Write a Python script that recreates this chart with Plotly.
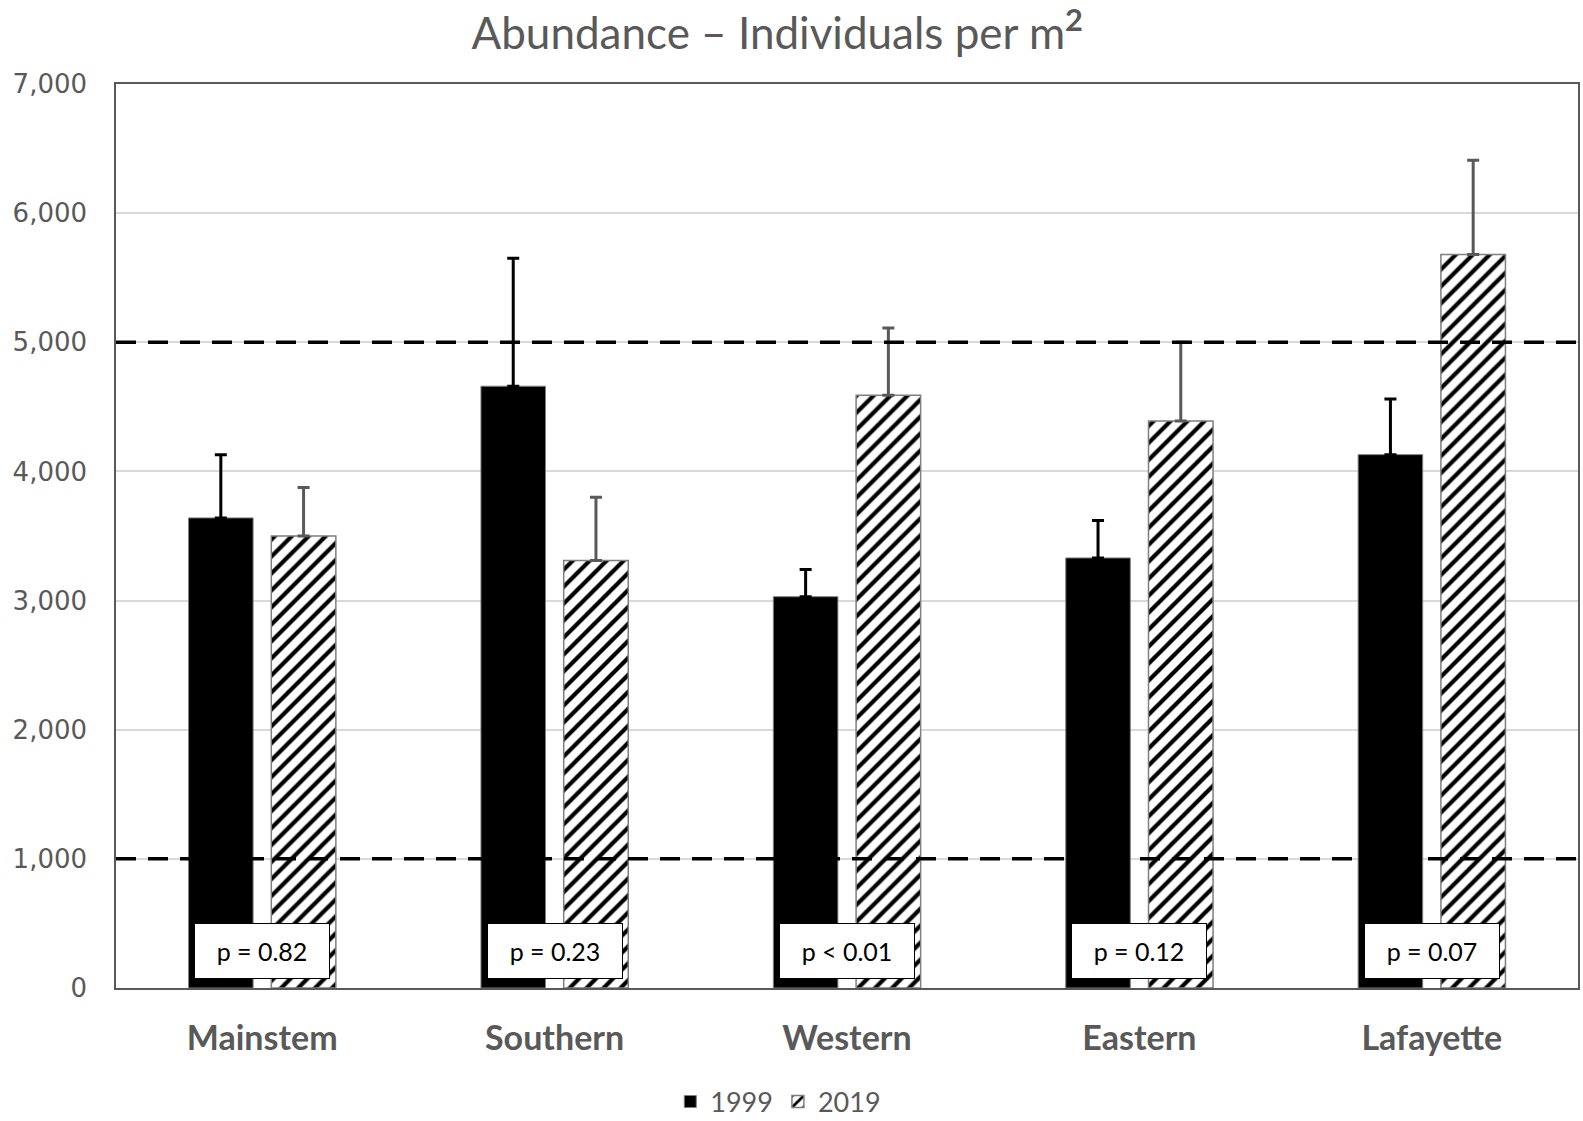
import plotly.graph_objects as go

# Sites and mean abundance (individuals per m2) with upper error bars
sites = ["Mainstem", "Southern", "Western", "Eastern", "Lafayette"]
mean_1999 = [3640, 4660, 3030, 3330, 4130]
err_1999 = [490, 990, 210, 290, 430]
mean_2019 = [3500, 3310, 4590, 4390, 5680]
err_2019 = [375, 490, 520, 610, 730]
p_labels = ["p = 0.82", "p = 0.23", "p < 0.01", "p = 0.12", "p = 0.07"]
reference_levels = [5000, 1000]
y_ticks = [0, 1000, 2000, 3000, 4000, 5000, 6000, 7000]

TEXT_GRAY = "#595959"
FONT = "Lato"

fig = go.Figure()

fig.add_trace(go.Bar(
    name="1999", x=sites, y=mean_1999,
    marker=dict(color="black", line=dict(color="#7f7f7f", width=1)),
    error_y=dict(type="data", symmetric=False, array=err_1999,
                 arrayminus=[0] * len(sites), color="black",
                 thickness=3, width=6),
))

fig.add_trace(go.Bar(
    name="2019", x=sites, y=mean_2019,
    marker=dict(color="white", line=dict(color="#7f7f7f", width=1.5),
                pattern=dict(shape="/", fgcolor="black", bgcolor="white",
                             size=12, solidity=0.35, fillmode="replace")),
    error_y=dict(type="data", symmetric=False, array=err_2019,
                 arrayminus=[0] * len(sites), color="#595959",
                 thickness=3, width=6),
))

# Dashed reference lines across the plot area
for lvl in reference_levels:
    fig.add_shape(type="line", xref="paper", yref="y", x0=0, x1=1,
                  y0=lvl, y1=lvl,
                  line=dict(color="black", width=3.5, dash="20px,12px"),
                  layer="above")

# p-value boxes at the foot of each site group
for site, txt in zip(sites, p_labels):
    fig.add_annotation(x=site, y=290, xref="x", yref="y", text=txt,
                       showarrow=False, font=dict(family=FONT, size=25, color="black"),
                       bgcolor="white", bordercolor="black", borderwidth=1,
                       borderpad=7, width=120, height=40)

fig.update_layout(
    width=1583, height=1121,
    paper_bgcolor="white", plot_bgcolor="white",
    margin=dict(l=116, r=5, t=84, b=133, autoexpand=False),
    barmode="group", bargap=0.434, bargroupgap=0.22,
    title=dict(text="Abundance \u2013 Individuals per m<sup><b>2</b></sup>",
               x=0.491, xanchor="center", y=0.97, yanchor="middle",
               font=dict(family=FONT, size=44, color=TEXT_GRAY)),
    legend=dict(orientation="h", x=0.453, xanchor="center",
                yref="container", y=0.017, yanchor="middle",
                font=dict(family=FONT, size=27, color=TEXT_GRAY),
                itemwidth=30, traceorder="normal"),
    font=dict(family=FONT, color=TEXT_GRAY),
)

fig.update_xaxes(
    showline=True, linecolor="#595959", linewidth=1.5, mirror=True,
    ticks="", ticklabelstandoff=19, automargin=False,
    tickfont=dict(family=FONT, size=34, color=TEXT_GRAY, weight="bold"),
)

fig.update_yaxes(
    range=[0, 7000], tickvals=y_ticks, tickformat=",",
    showline=True, linecolor="#595959", linewidth=1.5, mirror=True,
    showgrid=True, gridcolor="#d9d9d9", gridwidth=1.5,
    zeroline=False, ticks="", ticklabelstandoff=22, automargin=False,
    tickfont=dict(family="DejaVu Sans", size=26, color=TEXT_GRAY),
)

fig.write_html("out.html")
